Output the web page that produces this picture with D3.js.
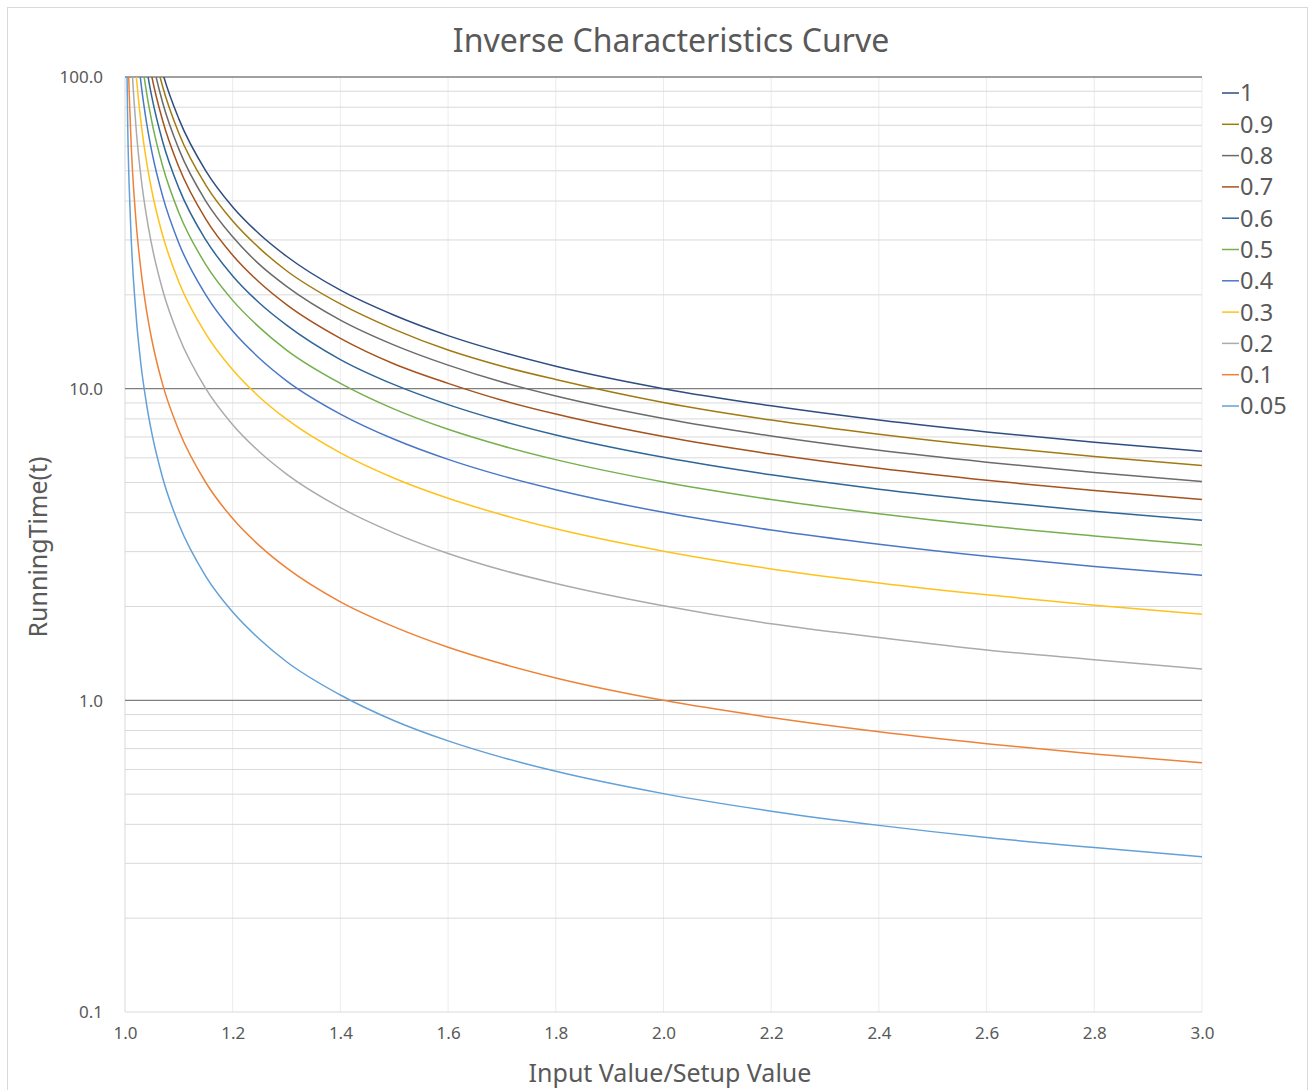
<!DOCTYPE html>
<html>
<head>
<meta charset="utf-8">
<script src="https://cdn.jsdelivr.net/npm/d3@7"></script>
<style>
  body { margin: 0; background: #fff; }
  svg text { font-family: "Noto Sans", "Noto Sans CJK KR", sans-serif; fill: #595959; }
</style>
</head>
<body>
<div id="chart"></div>
<script>
// input value / setup value (x) sample points
var ratio = [1.002, 1.005, 1.01, 1.02, 1.03, 1.04, 1.05, 1.07, 1.1, 1.15, 1.2, 1.25, 1.3, 1.4, 1.5, 1.6, 1.7, 1.8, 2.0, 2.2, 2.4, 2.6, 2.8, 3.0];

// running time for each time multiplier
var t100 = [3503, 1403, 704, 353, 237, 178, 143, 103, 73.4, 50.0, 38.3, 31.3, 26.6, 20.7, 17.2, 14.8, 13.1, 11.8, 10.0, 8.81, 7.93, 7.26, 6.73, 6.30];
var t090 = [3153, 1263, 633, 318, 213, 161, 129, 93.1, 66.0, 45.0, 34.5, 28.2, 23.9, 18.7, 15.5, 13.3, 11.8, 10.7, 9.03, 7.93, 7.14, 6.53, 6.06, 5.67];
var t080 = [2802, 1122, 563, 283, 189, 143, 115, 82.7, 58.7, 40.0, 30.7, 25.0, 21.3, 16.6, 13.8, 11.9, 10.5, 9.47, 8.02, 7.05, 6.34, 5.81, 5.38, 5.04];
var t070 = [2452, 982, 492, 247, 166, 125, 100, 72.4, 51.4, 35.0, 26.8, 21.9, 18.6, 14.5, 12.0, 10.4, 9.18, 8.29, 7.02, 6.17, 5.55, 5.08, 4.71, 4.41];
var t060 = [2102, 842, 422, 212, 142, 107, 86.0, 62.0, 44.0, 30.0, 23.0, 18.8, 16.0, 12.4, 10.3, 8.89, 7.87, 7.10, 6.02, 5.29, 4.76, 4.36, 4.04, 3.78];
var t050 = [1752, 702, 352, 177, 118, 89.2, 71.7, 51.7, 36.7, 25.0, 19.2, 15.7, 13.3, 10.4, 8.60, 7.41, 6.56, 5.92, 5.02, 4.41, 3.97, 3.63, 3.37, 3.15];
var t040 = [1401, 561, 281, 141, 94.7, 71.4, 57.4, 41.4, 29.3, 20.0, 15.3, 12.5, 10.6, 8.29, 6.88, 5.93, 5.25, 4.74, 4.01, 3.52, 3.17, 2.90, 2.69, 2.52];
var t030 = [1051, 421, 211, 106, 71.0, 53.5, 43.0, 31.0, 22.0, 15.0, 11.5, 9.39, 7.98, 6.22, 5.16, 4.45, 3.94, 3.55, 3.01, 2.64, 2.38, 2.18, 2.02, 1.89];
var t020 = [701, 281, 141, 70.7, 47.3, 35.7, 28.7, 20.7, 14.7, 10.0, 7.66, 6.26, 5.32, 4.15, 3.44, 2.96, 2.62, 2.37, 2.01, 1.76, 1.59, 1.45, 1.35, 1.26];
var t010 = [350, 140, 70.4, 35.3, 23.7, 17.8, 14.3, 10.3, 7.34, 5.00, 3.83, 3.13, 2.66, 2.07, 1.72, 1.48, 1.31, 1.18, 1.00, 0.881, 0.793, 0.726, 0.673, 0.630];
var t005 = [175, 70.2, 35.2, 17.7, 11.8, 8.92, 7.17, 5.17, 3.67, 2.50, 1.92, 1.57, 1.33, 1.04, 0.860, 0.741, 0.656, 0.592, 0.502, 0.441, 0.397, 0.363, 0.337, 0.315];

var seriesNames = ['1', '0.9', '0.8', '0.7', '0.6', '0.5', '0.4', '0.3', '0.2', '0.1', '0.05'];
var seriesValues = [t100, t090, t080, t070, t060, t050, t040, t030, t020, t010, t005];
var seriesColors = ['#2F4D80', '#A07A10', '#6B6B6B', '#A5531E', '#2F6698', '#74B04E', '#4A77C6', '#FFC21A', '#ABABAB', '#EE8238', '#62A0D8'];

var xTicks = [1.0, 1.2, 1.4, 1.6, 1.8, 2.0, 2.2, 2.4, 2.6, 2.8, 3.0];
var yTicks = [0.1, 1, 10, 100];

const width = 1316;
const height = 1090;
const plot = {left: 125, right: 1202, top: 77, bottom: 1012};

var svg = d3.select('#chart')
    .append('svg')
    .attr('width', width)
    .attr('height', height);

svg.append('rect')
    .attr('width', width).attr('height', height)
    .attr('fill', '#fff');

// outer chart border
svg.append('rect')
    .attr('x', 7.5).attr('y', 7.5)
    .attr('width', 1300).attr('height', 1100)
    .attr('fill', 'none')
    .attr('stroke', '#d9d9d9');

var x = d3.scaleLinear().domain([1, 3]).range([plot.left, plot.right]);
var y = d3.scaleLog().domain([0.1, 100]).range([plot.bottom, plot.top]);

// vertical grid
svg.append('g')
    .selectAll('line')
    .data(xTicks.slice(1))
    .join('line')
    .attr('x1', d => x(d)).attr('x2', d => x(d))
    .attr('y1', plot.top).attr('y2', plot.bottom)
    .attr('stroke', '#ececec');

// minor horizontal grid
var minorTicks = [];
[0.1, 1, 10].forEach(function(base){
    for (var k = 2; k <= 9; k++) minorTicks.push(base * k);
});
svg.append('g')
    .selectAll('line')
    .data(minorTicks)
    .join('line')
    .attr('x1', plot.left).attr('x2', plot.right)
    .attr('y1', d => y(d)).attr('y2', d => y(d))
    .attr('stroke', '#d9d9d9');

// left and bottom axis lines
svg.append('line')
    .attr('x1', plot.left).attr('x2', plot.left)
    .attr('y1', plot.top).attr('y2', plot.bottom)
    .attr('stroke', '#d9d9d9');
svg.append('line')
    .attr('x1', plot.left).attr('x2', plot.right)
    .attr('y1', plot.bottom).attr('y2', plot.bottom)
    .attr('stroke', '#d9d9d9');

// major horizontal grid
svg.append('g')
    .selectAll('line')
    .data([1, 10, 100])
    .join('line')
    .attr('x1', plot.left).attr('x2', plot.right)
    .attr('y1', d => y(d)).attr('y2', d => y(d))
    .attr('stroke', '#808080')
    .attr('stroke-width', 1.3);

// curves
svg.append('clipPath')
    .attr('id', 'plotClip')
    .append('rect')
    .attr('x', plot.left).attr('y', plot.top)
    .attr('width', plot.right - plot.left).attr('height', plot.bottom - plot.top);

var line = d3.line()
    .curve(d3.curveMonotoneX)
    .x((d, i) => x(ratio[i]))
    .y(d => y(d));

svg.append('g')
    .attr('clip-path', 'url(#plotClip)')
    .selectAll('path')
    .data(seriesValues)
    .join('path')
    .attr('d', d => line(d))
    .attr('fill', 'none')
    .attr('stroke', (d, i) => seriesColors[i])
    .attr('stroke-width', 1.5);

// axes labels
var yAxis = svg.append('g')
    .attr('transform', `translate(${plot.left - 19},0)`)
    .call(d3.axisLeft(y).tickValues(yTicks).tickFormat(d3.format('.1f')).tickSize(0));
yAxis.select('.domain').remove();
yAxis.selectAll('text')
    .style('font-size', '17px')
    .attr('dy', '0.35em')
    .attr('fill', '#595959');

var xAxis = svg.append('g')
    .attr('transform', `translate(0,${plot.bottom + 12})`)
    .call(d3.axisBottom(x).tickValues(xTicks).tickFormat(d3.format('.1f')).tickSize(0));
xAxis.select('.domain').remove();
xAxis.selectAll('text')
    .style('font-size', '17px')
    .attr('fill', '#595959');

// title
svg.append('text')
    .attr('x', 671)
    .attr('y', 52)
    .attr('text-anchor', 'middle')
    .style('font-size', '32px')
    .text('Inverse Characteristics Curve');

svg.append('text')
    .attr('x', 670)
    .attr('y', 1082)
    .attr('text-anchor', 'middle')
    .style('font-size', '25px')
    .text('Input Value/Setup Value');

svg.append('text')
    .attr('transform', 'translate(47,547) rotate(-90)')
    .attr('text-anchor', 'middle')
    .style('font-size', '25px')
    .text('RunningTime(t)');

// legend
var legendY = 93;
for (var i = 0; i < seriesNames.length; i++) {
    svg.append('line')
        .attr('x1', 1222).attr('x2', 1239)
        .attr('y1', legendY).attr('y2', legendY)
        .attr('stroke', seriesColors[i])
        .attr('stroke-width', 1.5);
    svg.append('text')
        .attr('x', 1240)
        .attr('y', legendY)
        .attr('dy', '0.36em')
        .style('font-size', '23.5px')
        .text(seriesNames[i]);
    legendY += 31.3;
}
</script>
</body>
</html>
